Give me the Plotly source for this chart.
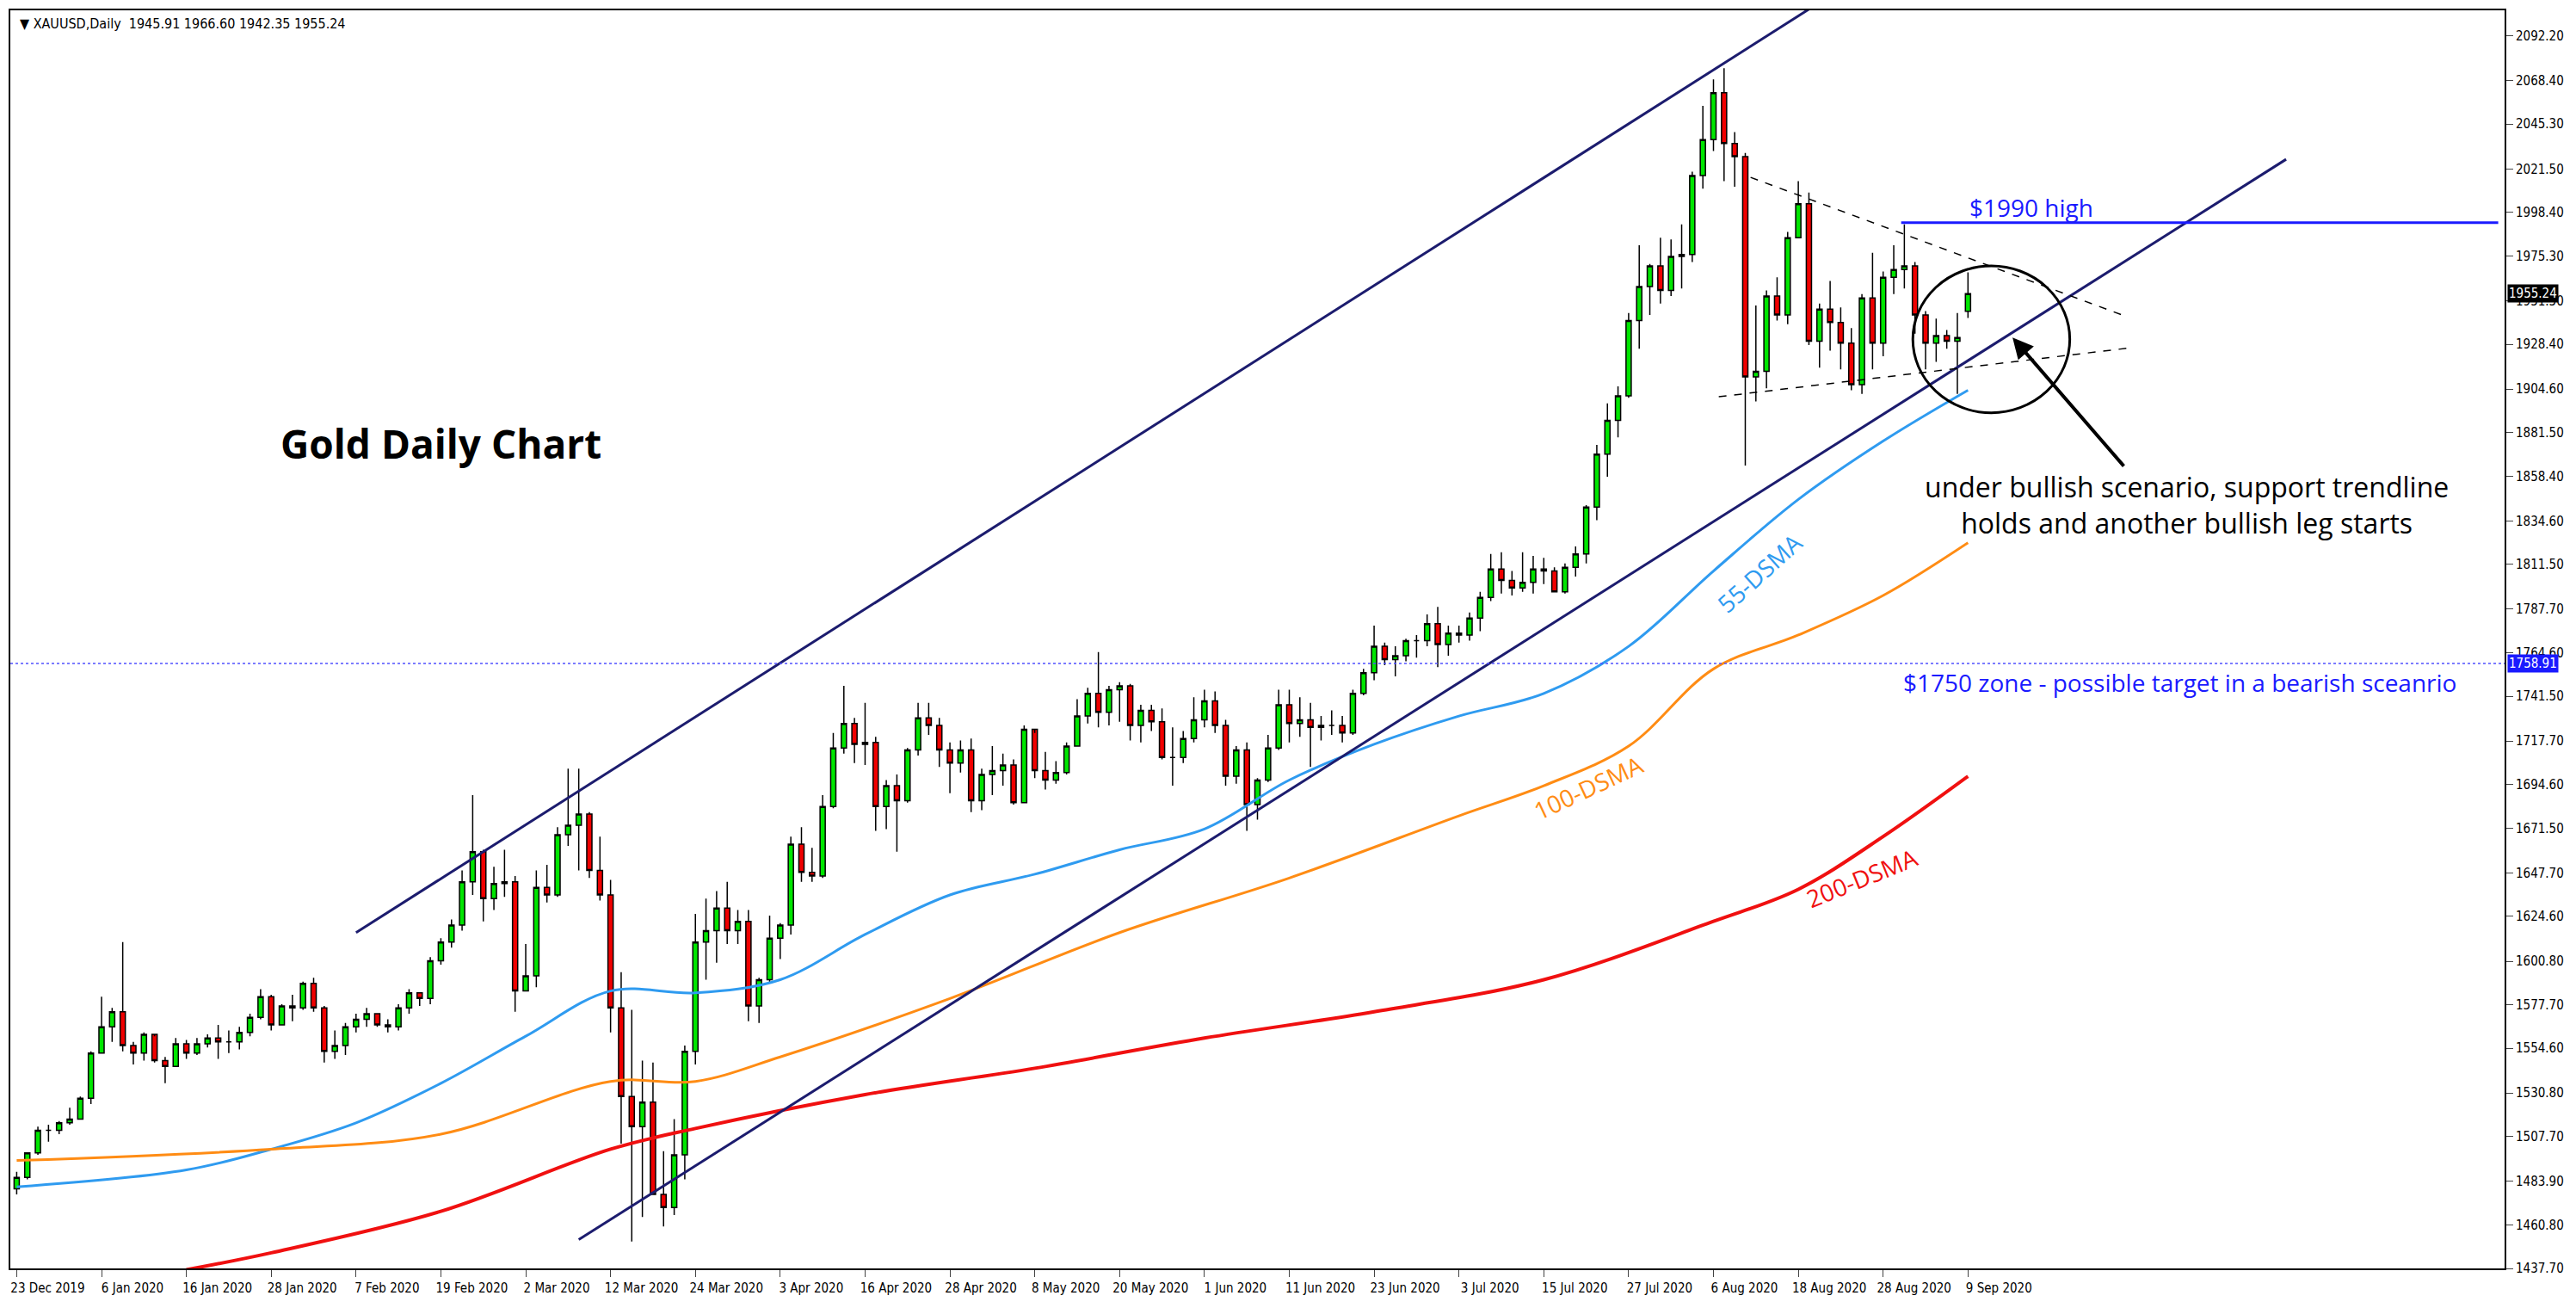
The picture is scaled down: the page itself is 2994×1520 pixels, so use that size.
import plotly.graph_objects as go

# trading days 23 Dec 2019 .. 9 Sep 2020 (index = bar number)
closes = [
    1486, 1499, 1511, 1511, 1515, 1517,
    1528, 1552, 1566, 1574, 1556, 1552, 1562, 1548, 1545, 1557, 1552, 1557, 1560, 1558, 1558, 1563, 1571, 1582, 1567, 1577, 1576, 1589,
    1576, 1553, 1556, 1566, 1570, 1573, 1567, 1566, 1576, 1584, 1581, 1601, 1611, 1620, 1643, 1659, 1634, 1642, 1643, 1585,
    1593, 1640, 1636, 1668, 1673, 1679, 1649, 1636, 1576, 1529, 1513, 1526, 1477, 1470, 1498, 1553, 1611, 1617, 1629, 1617, 1622, 1577,
    1591, 1613, 1620, 1663, 1648, 1646, 1683, 1714, 1727, 1716, 1717, 1683, 1694, 1686, 1713, 1730, 1726, 1713, 1706, 1713, 1686,
    1700, 1702, 1705, 1685, 1724, 1702, 1697, 1701, 1715, 1731, 1743, 1733, 1745, 1747, 1726, 1734, 1728, 1709, 1709, 1719, 1729,
    1739, 1726, 1699, 1713, 1684, 1697, 1714, 1737, 1727, 1729, 1725, 1726, 1726, 1722, 1743, 1754, 1768, 1761, 1763, 1771, 1771, 1780,
    1769, 1775, 1774, 1783, 1794, 1809, 1803, 1799, 1802, 1809, 1808, 1797, 1810, 1817, 1842, 1870, 1888, 1901, 1941, 1959, 1970, 1957, 1975,
    1976, 2018, 2037, 2062, 2035, 2028, 1911, 1914, 1954, 1944, 1985, 2003, 1930, 1947, 1940, 1929, 1907, 1953, 1929, 1964, 1968,
    1970, 1944, 1929, 1933, 1930, 1932, 1955.24,
]
highs = [
    1489, 1499, 1513, 1514, 1516, 1523,
    1529, 1553, 1582, 1576, 1611, 1558, 1563, 1561, 1550, 1560, 1559, 1560, 1562, 1567, 1564, 1566, 1573, 1586, 1583, 1578, 1583, 1590,
    1592, 1577, 1564, 1568, 1573, 1576, 1573, 1570, 1578, 1586, 1584, 1603, 1613, 1623, 1649, 1689, 1660, 1651, 1660, 1646,
    1610, 1649, 1652, 1672, 1703, 1703, 1680, 1667, 1644, 1595, 1575, 1548, 1547, 1500, 1517, 1556, 1626, 1634, 1638, 1643, 1628, 1628,
    1592, 1625, 1621, 1667, 1672, 1661, 1689, 1722, 1747, 1730, 1738, 1720, 1697, 1700, 1714, 1738, 1738, 1730, 1717, 1718, 1719,
    1703, 1715, 1711, 1708, 1726, 1722, 1712, 1707, 1717, 1740, 1746, 1765, 1747, 1749, 1748, 1737, 1737, 1735, 1725, 1723, 1741,
    1745, 1744, 1729, 1715, 1717, 1698, 1721, 1745, 1745, 1741, 1738, 1731, 1734, 1731, 1745, 1756, 1779, 1770, 1768, 1772, 1774, 1785,
    1789, 1779, 1779, 1786, 1797, 1817, 1818, 1808, 1818, 1816, 1815, 1810, 1812, 1821, 1843, 1875, 1897, 1906, 1945, 1981, 1971, 1985, 1984,
    1992, 2020, 2055, 2069, 2075, 2041, 2030, 1949, 1957, 1964, 1988, 2015, 2009, 1950, 1962, 1948, 1937, 1955, 1977, 1967, 1981,
    1992, 1972, 1946, 1942, 1936, 1945, 1966.60,
]
lows = [
    1477, 1485, 1498, 1505, 1509, 1514,
    1517, 1525, 1552, 1558, 1553, 1546, 1548, 1547, 1536, 1545, 1549, 1551, 1555, 1549, 1552, 1554, 1561, 1570, 1564, 1567, 1569, 1575,
    1574, 1547, 1549, 1551, 1563, 1566, 1566, 1563, 1564, 1573, 1577, 1578, 1599, 1608, 1617, 1636, 1622, 1628, 1635, 1574,
    1585, 1587, 1632, 1635, 1662, 1649, 1645, 1633, 1563, 1504, 1452, 1465, 1477, 1460, 1466, 1485, 1546, 1591, 1600, 1610, 1610, 1569,
    1568, 1589, 1602, 1615, 1643, 1643, 1645, 1682, 1711, 1706, 1705, 1670, 1671, 1659, 1685, 1710, 1721, 1704, 1690, 1701, 1680,
    1681, 1689, 1694, 1684, 1685, 1698, 1692, 1695, 1700, 1715, 1727, 1725, 1726, 1728, 1718, 1717, 1723, 1708, 1694, 1706, 1717,
    1725, 1722, 1694, 1695, 1670, 1676, 1696, 1713, 1717, 1720, 1704, 1718, 1721, 1717, 1721, 1742, 1750, 1758, 1752, 1760, 1762, 1768,
    1757, 1763, 1770, 1771, 1776, 1792, 1796, 1795, 1797, 1796, 1801, 1797, 1796, 1805, 1812, 1835, 1858, 1879, 1900, 1926, 1944, 1950, 1954,
    1958, 1972, 2011, 2031, 2015, 2012, 1864, 1898, 1905, 1941, 1939, 1985, 1928, 1916, 1925, 1915, 1904, 1902, 1915, 1922, 1955,
    1958, 1934, 1915, 1919, 1926, 1902, 1942.35,
]
first_open = 1480

date_labels = ["23 Dec 2019", "6 Jan 2020", "16 Jan 2020", "28 Jan 2020", "7 Feb 2020", "19 Feb 2020",
               "2 Mar 2020", "12 Mar 2020", "24 Mar 2020", "3 Apr 2020", "16 Apr 2020", "28 Apr 2020",
               "8 May 2020", "20 May 2020", "1 Jun 2020", "11 Jun 2020", "23 Jun 2020", "3 Jul 2020",
               "15 Jul 2020", "27 Jul 2020", "6 Aug 2020", "18 Aug 2020", "28 Aug 2020", "9 Sep 2020"]
price_ticks = [2092.20, 2068.40, 2045.30, 2021.50, 1998.40, 1975.30, 1951.50, 1928.40, 1904.60, 1881.50,
               1858.40, 1834.60, 1811.50, 1787.70, 1764.60, 1741.50, 1717.70, 1694.60, 1671.50, 1647.70,
               1624.60, 1600.80, 1577.70, 1554.60, 1530.80, 1507.70, 1483.90, 1460.80, 1437.70]

# moving averages (bar index, price)
ma55_x = [0, 16, 24, 32, 40, 48, 56, 64, 72, 80, 88, 96, 104, 112, 120, 128, 136, 144, 152, 160, 168, 176, 184]
ma55_y = [1481, 1490, 1501, 1515, 1536, 1561, 1585, 1584, 1591, 1615, 1636, 1647, 1660, 1671, 1697, 1716, 1731, 1743, 1768, 1808, 1846, 1877, 1904]
ma100_x = [0, 24, 40, 56, 64, 72, 88, 104, 120, 136, 144, 152, 160, 168, 176, 184]
ma100_y = [1495, 1501, 1509, 1537, 1537, 1550, 1581, 1616, 1645, 1678, 1694, 1715, 1756, 1774, 1795, 1823]
ma200_x = [16, 24, 40, 56, 64, 80, 96, 112, 128, 144, 160, 168, 176, 184]
ma200_y = [1437, 1446, 1468, 1501, 1512, 1530, 1544, 1560, 1574, 1591, 1622, 1639, 1667, 1699]

idx = list(range(len(closes)))
opens = [first_open] + closes[:-1]
opens[-1] = 1945.91

fig = go.Figure()
fig.add_trace(go.Candlestick(x=idx, open=opens, high=highs, low=lows, close=closes,
                             increasing=dict(fillcolor="#00e600", line=dict(color="black", width=1.5)),
                             decreasing=dict(fillcolor="#f00000", line=dict(color="black", width=1.5)),
                             whiskerwidth=0, showlegend=False))
fig.add_trace(go.Scatter(x=ma55_x, y=ma55_y, mode="lines", line=dict(color="#2f9bf0", width=3, shape="spline"), showlegend=False))
fig.add_trace(go.Scatter(x=ma100_x, y=ma100_y, mode="lines", line=dict(color="#ff8c14", width=3, shape="spline"), showlegend=False))
fig.add_trace(go.Scatter(x=ma200_x, y=ma200_y, mode="lines", line=dict(color="#f01010", width=4, shape="spline"), showlegend=False))

navy = "#1c1c6e"
# channel lines
fig.add_shape(type="line", x0=32, y0=1616, x1=169.2, y1=2107, line=dict(color=navy, width=3))
fig.add_shape(type="line", x0=53, y0=1453, x1=214, y1=2026.6, line=dict(color=navy, width=3))
# triangle
fig.add_shape(type="line", x0=163.5, y0=2017, x1=199, y1=1943, line=dict(color="black", width=1.5, dash="dash"))
fig.add_shape(type="line", x0=160.5, y0=1900.5, x1=199.2, y1=1926.4, line=dict(color="black", width=1.5, dash="dash"))
# $1990 high
fig.add_shape(type="line", x0=177.7, y0=1993, x1=234, y1=1993, line=dict(color="#1a1aff", width=3))
# 1758.91 level
fig.add_shape(type="line", xref="paper", x0=0, x1=1, y0=1758.91, y1=1758.91, line=dict(color="#5050ff", width=1.5, dash="dot"))
# circle
fig.add_shape(type="circle", x0=178.8, x1=193.6, y0=1892, y1=1970, line=dict(color="black", width=3))

fig.add_annotation(x=188.2, y=1932, ax=198.8, ay=1863, axref="x", ayref="y", showarrow=True,
                   arrowhead=2, arrowsize=1.2, arrowwidth=4, arrowcolor="black", text="")

txt = "Open Sans"
fig.add_annotation(x=40, y=1876, text="<b>Gold Daily Chart</b>", showarrow=False, font=dict(family=txt, size=46, color="black"))
fig.add_annotation(x=190, y=2001, text="$1990 high", showarrow=False, font=dict(family=txt, size=28, color="#1a1aff"))
fig.add_annotation(x=204, y=1749, text="$1750 zone - possible target in a bearish sceanrio", showarrow=False,
                   font=dict(family=txt, size=28, color="#1a1aff"))
fig.add_annotation(x=204.6, y=1843, text="under bullish scenario, support trendline<br>holds and another bullish leg starts",
                   showarrow=False, font=dict(family=txt, size=32, color="black"))
fig.add_annotation(x=164.3, y=1807, text="55-DSMA", textangle=-42, showarrow=False, font=dict(family=txt, size=28, color="#2f9bf0"))
fig.add_annotation(x=148.2, y=1693, text="100-DSMA", textangle=-25, showarrow=False, font=dict(family=txt, size=28, color="#ff8c14"))
fig.add_annotation(x=174, y=1645, text="200-DSMA", textangle=-22, showarrow=False, font=dict(family=txt, size=28, color="#f01010"))

# header and price labels
lab = "DejaVu Sans Condensed"
fig.add_annotation(xref="paper", yref="paper", x=0.003, y=0.997, xanchor="left", yanchor="top", showarrow=False,
                   text="▼ XAUUSD,Daily  1945.91 1966.60 1942.35 1955.24", font=dict(family=lab, size=16, color="black"))
fig.add_annotation(xref="paper", x=1.001, y=1955.24, xanchor="left", showarrow=False, text="1955.24", bgcolor="black",
                   borderpad=1, font=dict(family=lab, size=15, color="white"))
fig.add_annotation(xref="paper", x=1.001, y=1758.91, xanchor="left", showarrow=False, text="1758.91", bgcolor="#1a1aff",
                   borderpad=1, font=dict(family=lab, size=15, color="white"))

fig.update_layout(width=2975, height=1500, margin=dict(l=4, r=72, t=4, b=34),
                  plot_bgcolor="white", paper_bgcolor="white", showlegend=False)
fig.update_xaxes(range=[-0.6, 234.6], rangeslider_visible=False, showgrid=False, zeroline=False,
                 tickvals=list(range(0, 185, 8)), ticktext=date_labels, ticks="outside", ticklen=8, tickangle=0,
                 ticklabelshift=36, tickfont=dict(family=lab, size=15, color="black"), automargin=False,
                 showline=True, linecolor="black", linewidth=2, mirror=True)
fig.update_yaxes(range=[1437.7, 2105.7], side="right", showgrid=False, zeroline=False,
                 tickvals=price_ticks, tickformat=".2f", ticks="outside", ticklen=8, automargin=False,
                 tickfont=dict(family=lab, size=15, color="black"),
                 showline=True, linecolor="black", linewidth=2, mirror=True)

fig.write_html("out.html")
